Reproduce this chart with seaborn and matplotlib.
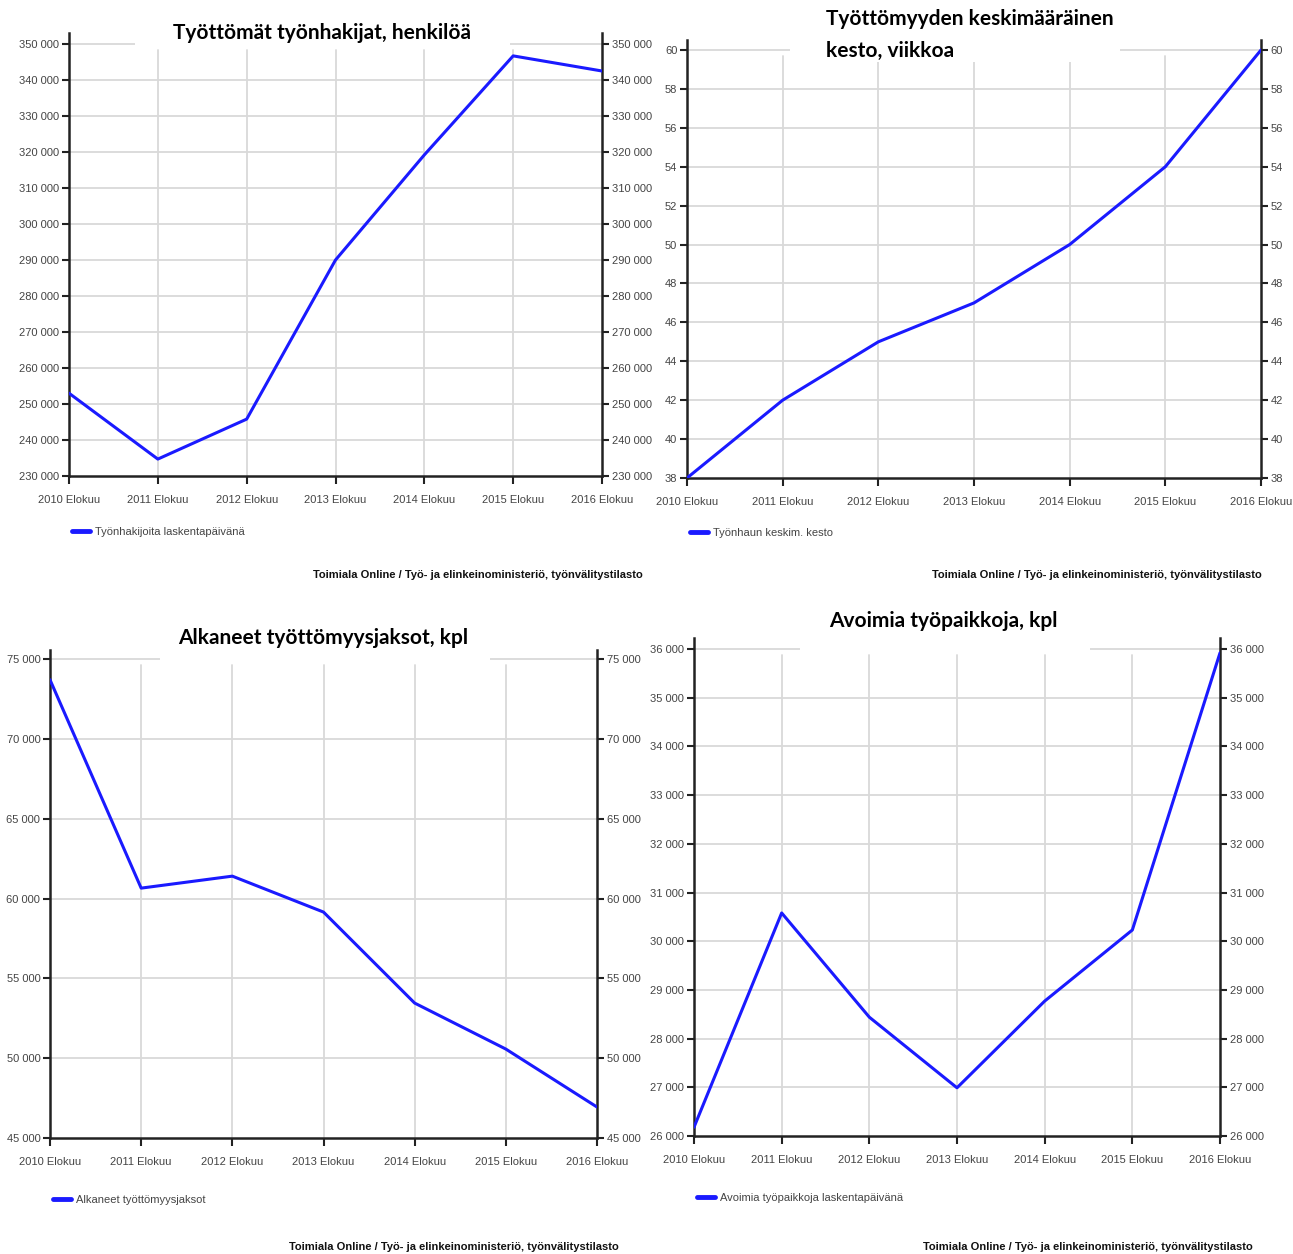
import numpy as np
import pandas as pd
import matplotlib
matplotlib.use("Agg")
import matplotlib.pyplot as plt
from matplotlib.patches import Rectangle
from matplotlib.ticker import FuncFormatter
import seaborn as sns

# ---- data ----
years = ["2010 Elokuu", "2011 Elokuu", "2012 Elokuu", "2013 Elokuu",
         "2014 Elokuu", "2015 Elokuu", "2016 Elokuu"]
tyonhakijat = [253000, 234700, 245800, 290000, 319200, 346700, 342500]
kesto = [38, 42, 45, 47, 50, 54, 60]
alkaneet = [73700, 60650, 61400, 59150, 53450, 50570, 46940]
avoimet = [26180, 30580, 28440, 26990, 28770, 30230, 35920]

titles = ["Työttömät työnhakijat, henkilöä",
          "Työttömyyden keskimääräinen\nkesto, viikkoa",
          "Alkaneet työttömyysjaksot, kpl",
          "Avoimia työpaikkoja, kpl"]
legend_labels = ["Työnhakijoita laskentapäivänä", "Työnhaun keskim. kesto",
                 "Alkaneet työttömyysjaksot", "Avoimia työpaikkoja laskentapäivänä"]
source = "Toimiala Online / Työ- ja elinkeinoministeriö, työnvälitystilasto"

W, H = 1293, 1254
sns.set_style("white")
plt.rcParams['font.family'] = ['Liberation Sans Narrow', 'Liberation Sans', 'DejaVu Sans']
fig = plt.figure(figsize=(W / 100, H / 100), dpi=100)
fig.patch.set_facecolor("white")

LINE = "#1a1aff"
GRID = "#d9d9d9"
TXT = "#444444"

def space_fmt(v, pos):
    return f"{int(round(v)):,}".replace(",", " ")

# panel geometry in pixels: left, spine top, right, bottom, top gridline
panels = [
    dict(vals=tyonhakijat, l=69, st=33, r=602, b=476, gt=44, y0=230000, y1=350000, step=10000,
         fmt=space_fmt, title=(322, 33, "center"), white=(135, 510, 0, 48),
         leg=(62, 532), src=(643, 575)),
    dict(vals=kesto, l=687, st=40, r=1261, b=478, gt=50, y0=38, y1=60, step=2,
         fmt=lambda v, p: f"{int(round(v))}", title=(826, 35, "left"), white=(790, 1120, 0, 62),
         leg=(680, 533), src=(1262, 575)),
    dict(vals=alkaneet, l=50, st=650, r=597, b=1138, gt=659, y0=45000, y1=75000, step=5000,
         fmt=space_fmt, title=(323, 638, "center"), white=(160, 490, 610, 663),
         leg=(43, 1200), src=(619, 1247)),
    dict(vals=avoimet, l=694, st=638, r=1220, b=1136, gt=649, y0=26000, y1=36000, step=1000,
         fmt=space_fmt, title=(943, 621, "center"), white=(800, 1090, 595, 653),
         leg=(687, 1198), src=(1253, 1247)),
]

for i, p in enumerate(panels):
    ax = fig.add_axes([p["l"] / W, 1 - p["b"] / H, (p["r"] - p["l"]) / W, (p["b"] - p["st"]) / H])
    # a little room above the last gridline, like the original
    per_px = (p["y1"] - p["y0"]) / (p["b"] - p["gt"])
    ytop = p["y1"] + (p["gt"] - p["st"]) * per_px
    df = pd.DataFrame({"x": np.arange(len(years)), "y": p["vals"]})
    sns.lineplot(data=df, x="x", y="y", ax=ax, color=LINE, linewidth=2.2,
                 label=legend_labels[i], legend=False, zorder=3)
    ax.set_xlim(0, len(years) - 1)
    ax.set_ylim(p["y0"], ytop)
    yt = np.arange(p["y0"], p["y1"] + p["step"] / 2, p["step"])
    ax.set_yticks(yt)
    ax.yaxis.set_major_formatter(FuncFormatter(p["fmt"]))
    ax.set_xticks(np.arange(len(years)))
    ax.set_xticklabels(years)
    ax.set_xlabel("")
    ax.set_ylabel("")
    # horizontal grid
    for v in yt[1:]:
        ax.axhline(v, color=GRID, linewidth=1.3, zorder=1)
    # vertical grid starts a bit below the top gridline
    vfrac = (p["b"] - (p["gt"] + 6)) / (p["b"] - p["st"])
    for x in range(1, len(years) - 1):
        ax.axvline(x, ymin=0, ymax=vfrac, color=GRID, linewidth=1.3, zorder=1)
    for s in ["left", "right", "bottom"]:
        ax.spines[s].set_color("#222222")
        ax.spines[s].set_linewidth(1.8)
    ax.spines["top"].set_visible(False)
    ax.tick_params(axis="y", left=True, right=True, labelleft=True, labelright=True,
                   length=5, width=1.5, color="#222222", labelsize=8, labelcolor=TXT, pad=2)
    ax.tick_params(axis="x", bottom=True, length=6, width=1.5, color="#222222",
                   labelsize=8, labelcolor=TXT, pad=8)
    # white box behind the title, cutting the top gridline
    wl, wr, wt, wb = p["white"]
    fig.add_artist(Rectangle((wl / W, 1 - wb / H), (wr - wl) / W, (wb - wt) / H,
                             transform=fig.transFigure, facecolor="white",
                             edgecolor="none", zorder=5))
    tx, ty, ha = p["title"]
    fig.text(tx / W, 1 - ty / H, titles[i], ha=ha, va="center", fontsize=15,
             fontweight="bold", family=["Lato", "DejaVu Sans"], color="black",
             linespacing=1.75, zorder=6)
    # legend
    lx, ly = p["leg"]
    leg = ax.legend(loc="center left", bbox_to_anchor=(lx / W, 1 - ly / H),
                    bbox_transform=fig.transFigure, frameon=False, handlelength=1.6,
                    handletextpad=0.5, fontsize=8)
    for t in leg.get_texts():
        t.set_color(TXT)
    for ln in leg.get_lines():
        ln.set_linewidth(3.5)
    sx, sy = p["src"]
    fig.text(sx / W, 1 - sy / H, source, ha="right", va="center", fontsize=8,
             fontweight="bold", color="#111111")

plt.savefig("out.png", dpi=100, facecolor="white")
